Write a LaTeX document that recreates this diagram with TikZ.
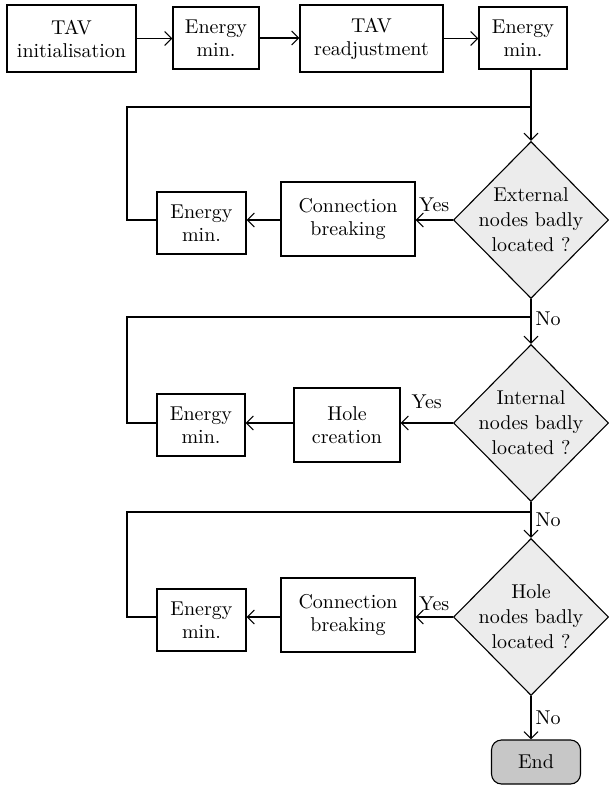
\documentclass[tikz,border=0pt]{standalone}
\usepackage{tikz}
\usetikzlibrary{shapes.geometric, arrows.meta}
\tikzset{>={Straight Barb[length=3.5pt,width=7pt]}}
\def\lw{0.55pt}

\tikzset{
  box/.style={draw, line width=\lw, align=center, inner sep=1pt, font=\fontsize{10}{11.5}\selectfont},
  decision/.style={draw, diamond, fill=gray!15, line width=\lw, align=center, inner sep=-3pt,
    minimum width=77.5pt, minimum height=78.5pt, font=\fontsize{10}{12.5}\selectfont},
  finish/.style={draw, line width=\lw, rounded corners=5pt, fill=black!22, minimum width=44.5pt,
    minimum height=22pt, font=\fontsize{10}{11.5}\selectfont},
  flow/.style={line width=\lw},
  tag/.style={font=\fontsize{10}{11.5}\selectfont, inner sep=2pt}
}

\begin{document}
\begin{tikzpicture}[x=0.5pt, y=-0.5pt]
  \useasboundingbox (0,0) rectangle (609,786);

  % top row
  \node[box, minimum width=64.5pt, minimum height=33.5pt] (init) at (71.5,38.5) {TAV\\initialisation};
  \node[box, minimum width=43pt, minimum height=31pt] (emA) at (216,38) {Energy\\min.};
  \node[box, minimum width=71.5pt, minimum height=33.5pt] (readj) at (371.5,38.5) {TAV\\readjustment};
  \node[box, minimum width=44pt, minimum height=31pt] (emB) at (523,38) {Energy\\min.};

  % decisions
  \node[decision] (extd) at (531,220) {External\\nodes badly\\located ?};
  \node[decision] (intd) at (531,423) {Internal\\nodes badly\\located ?};
  \node[decision] (hold) at (531,617) {Hole\\nodes badly\\located ?};

  % corrections
  \node[box, minimum width=67pt, minimum height=37pt] (cbA) at (348,219) {Connection\\breaking};
  \node[box, minimum width=44.5pt, minimum height=31pt] (emC) at (201.5,223) {Energy\\min.};
  \node[box, minimum width=53pt, minimum height=37pt] (hole) at (347,425) {Hole\\creation};
  \node[box, minimum width=44pt, minimum height=31pt] (emD) at (201,425) {Energy\\min.};
  \node[box, minimum width=67pt, minimum height=37pt] (cbB) at (348,615) {Connection\\breaking};
  \node[box, minimum width=44.5pt, minimum height=31pt] (emE) at (201.5,620) {Energy\\min.};

  \node[finish] (end) at (536,762) {End};

  % junctions and loop corners
  \coordinate (jA) at (531,107);
  \coordinate (jB) at (531,317);
  \coordinate (jC) at (531,512);
  \coordinate (lA) at (127,107);
  \coordinate (lB) at (127,317);
  \coordinate (lC) at (127,512);

  % Top chain
  \draw[flow, ->] (init.east) -- (init.east -| emA.west);
  \draw[flow, ->] (emA.east) -- (emA.east -| readj.west);
  \draw[flow, ->] (readj.east) -- (readj.east -| emB.west);
  \draw[flow] (emB.south -| jA) -- (jA);
  \draw[flow, ->] (jA) -- (extd.north);

  % Yes branches
  \draw[flow, ->] (extd.west) -- node[tag, above, yshift=2pt] {Yes} (extd.west -| cbA.east);
  \draw[flow, ->] (extd.west -| cbA.west) -- (extd.west -| emC.east);
  \draw[flow, ->] (intd.west) -- node[tag, above, yshift=5pt] {Yes} (intd.west -| hole.east);
  \draw[flow, ->] (intd.west -| hole.west) -- (intd.west -| emD.east);
  \draw[flow, ->] (hold.west) -- node[tag, above, yshift=1pt] {Yes} (hold.west -| cbB.east);
  \draw[flow, ->] (hold.west -| cbB.west) -- (hold.west -| emE.east);

  % loops back
  \draw[flow] (extd.west -| emC.west) -| (lA) -- (jA);
  \draw[flow] (intd.west -| emD.west) -| (lB) -- (jB);
  \draw[flow] (hold.west -| emE.west) -| (lC) -- (jC);

  % No branches
  \draw[flow, ->] (extd.south) -- node[tag, right, pos=0.45] {No} (intd.north);
  \draw[flow, ->] (intd.south) -- node[tag, right, pos=0.5] {No} (hold.north);
  \draw[flow, ->] (hold.south) -- node[tag, right] {No} (hold.south |- end.north);

\end{tikzpicture}
\end{document}
